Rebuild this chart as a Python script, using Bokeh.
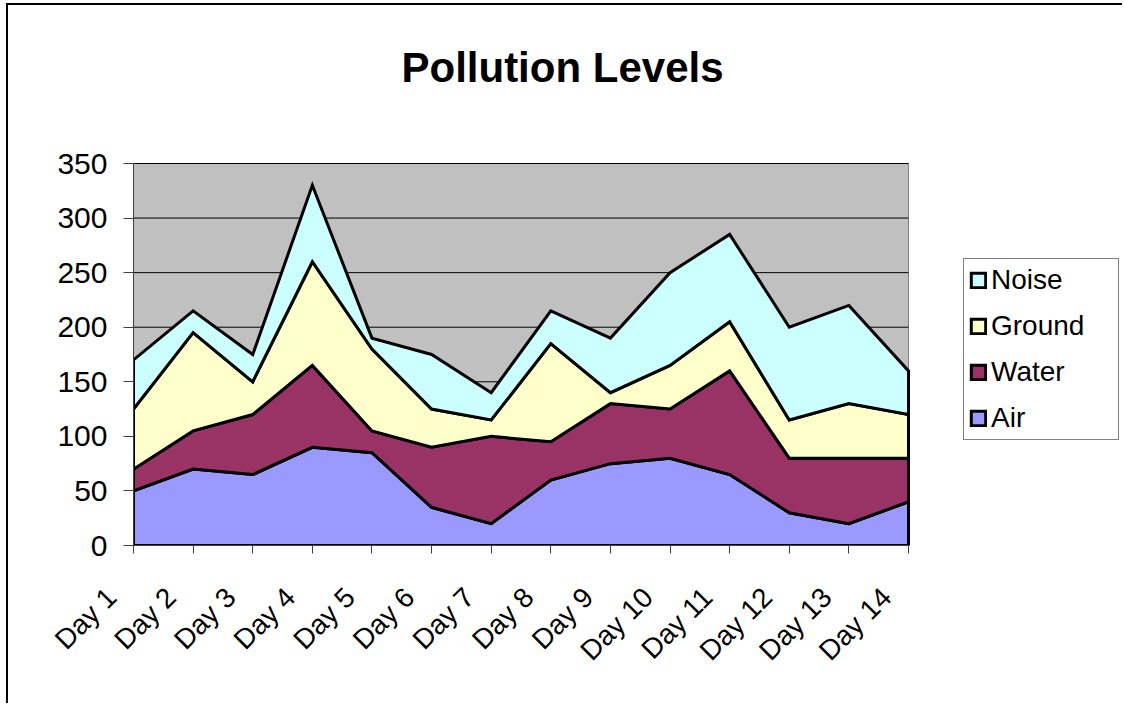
from bokeh.plotting import figure
from bokeh.models import ColumnDataSource, Legend, LegendItem, FixedTicker, Range1d, Label
from bokeh.embed import file_html
from bokeh.resources import INLINE
import math

days = ["Day 1", "Day 2", "Day 3", "Day 4", "Day 5", "Day 6", "Day 7",
        "Day 8", "Day 9", "Day 10", "Day 11", "Day 12", "Day 13", "Day 14"]
air = [50, 70, 65, 90, 85, 35, 20, 60, 75, 80, 65, 30, 20, 40]
water = [20, 35, 55, 75, 20, 55, 80, 35, 55, 45, 95, 50, 60, 40]
ground = [55, 90, 30, 95, 75, 35, 15, 90, 10, 40, 45, 35, 50, 40]
noise = [45, 20, 25, 70, 10, 50, 25, 30, 50, 85, 80, 85, 90, 40]
y_ticks = [0, 50, 100, 150, 200, 250, 300, 350]
title_text = "Pollution Levels"

series = [("Air", air, "#9999FF"), ("Water", water, "#993366"),
          ("Ground", ground, "#FFFFCC"), ("Noise", noise, "#CCFFFF")]

FONT = "Liberation Sans"

# layout (pixels, relative to figure content origin)
OX, OY = 8, 5            # content origin on the page (after margin + border)
W, H = 1124 - OX, 705 - OY
PL, PR = 133 - OX, 908 - OX      # plot area left / right
PT, PB = 163 - OY, 545 - OY      # plot area top / bottom
FT = 5                           # frame top (extended to hold the title)

n = len(days)
ymax = y_ticks[-1]
x_end = (n - 1) * (W - PL) / (PR - PL)
y_end = ymax * (PB - FT) / (PB - PT)

p = figure(width=W, height=H, output_backend="svg", toolbar_location=None,
           x_range=Range1d(0, x_end), y_range=Range1d(0, y_end),
           min_border_left=PL, min_border_right=0, min_border_top=FT,
           min_border_bottom=H - PB)
p.styles = {"border-left": "2px solid black", "border-top": "2px solid black",
            "margin-left": "6px", "margin-top": "3px"}

p.background_fill_color = "white"
p.border_fill_color = "white"
p.outline_line_color = None

xs = list(range(n))

# plot area background
p.quad(left=[0], right=[n - 1], bottom=[0], top=[ymax],
       fill_color="#C0C0C0", line_color="#808080", line_width=1)
# horizontal gridlines
p.segment(x0=[0] * len(y_ticks), x1=[n - 1] * len(y_ticks), y0=y_ticks, y1=y_ticks,
          line_color="black", line_width=1)

base = [0] * n
renderers = {}
for name, vals, color in series:
    top = [b + v for b, v in zip(base, vals)]
    src = ColumnDataSource(dict(x=xs + xs[::-1], y=top + base[::-1]))
    r = p.patch("x", "y", source=src, fill_color=color, line_color="black",
                line_width=3, line_join="miter")
    renderers[name] = r
    base = top

# axes
p.xaxis.ticker = FixedTicker(ticks=xs)
p.xaxis.bounds = (0, n - 1)
p.xaxis.major_label_overrides = {i: d + "\u00a0" * 4 for i, d in enumerate(days)}
p.xaxis.major_label_orientation = math.pi / 4
p.yaxis.ticker = FixedTicker(ticks=y_ticks)
p.yaxis.bounds = (0, ymax)
for ax in (p.xaxis, p.yaxis):
    ax.major_label_text_font = FONT
    ax.major_label_text_font_size = "28px"
    ax.major_label_text_color = "black"
    ax.axis_line_color = "#404040"
    ax.axis_line_width = 1
    ax.major_tick_line_color = "#404040"
    ax.major_tick_in = 0
    ax.major_tick_out = 8
    ax.minor_tick_line_color = None
p.yaxis.major_label_text_font_size = "30px"
p.yaxis.major_tick_out = 10
p.yaxis.major_label_standoff = 16
p.xaxis.major_label_standoff = 17

p.xgrid.grid_line_color = None
p.ygrid.grid_line_color = None

# title
title = Label(x=(n - 1) * (562 - 133) / (908 - 133), y=ymax * (PB - (67 - OY)) / (PB - PT),
              text=title_text, text_font=FONT, text_font_size="42px",
              text_font_style="bold", text_color="black",
              text_align="center", text_baseline="alphabetic")
p.add_layout(title)

legend = Legend(items=[LegendItem(label=nm, renderers=[renderers[nm]]) for nm in ["Noise", "Ground", "Water", "Air"]],
                location=(963 - 133, 545 - 440))
legend.label_text_font = FONT
legend.label_text_font_size = "28px"
legend.label_text_color = "black"
legend.glyph_width = 18
legend.glyph_height = 18
legend.label_height = 30
legend.label_width = 122
legend.spacing = 14
legend.padding = 5
legend.margin = 0
legend.label_standoff = 4
legend.border_line_color = "black"
legend.border_line_width = 1
legend.background_fill_color = "white"
legend.background_fill_alpha = 1
p.add_layout(legend, "center")

open("out.html", "w").write(file_html(p, INLINE))
